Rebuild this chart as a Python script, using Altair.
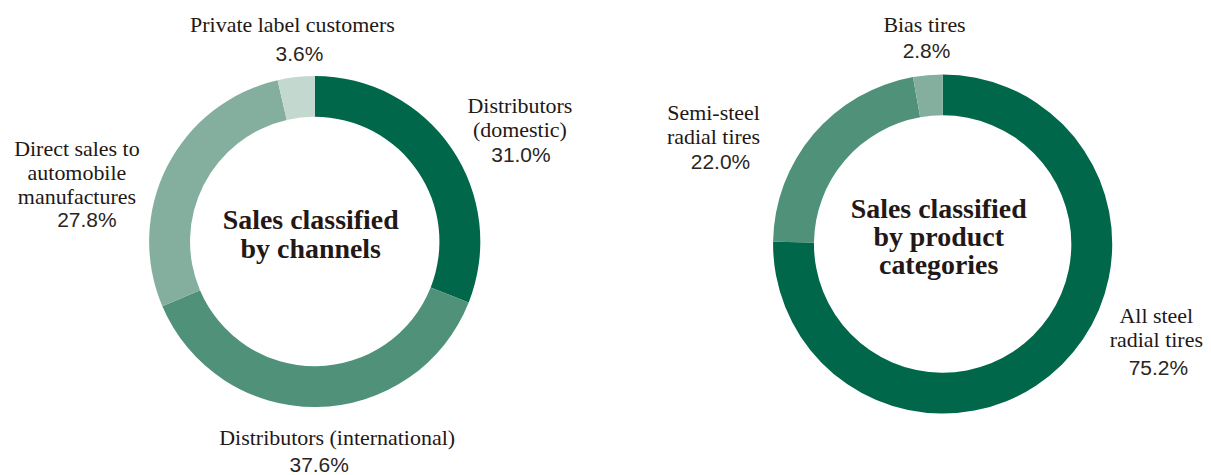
import altair as alt
import numpy as np
import pandas as pd

# ---------------- data ----------------
channel_labels = [
    "Distributors\n(domestic)",
    "Distributors (international)",
    "Direct sales to\nautomobile\nmanufactures",
    "Private label customers",
]
channel_shares = [31.0, 37.6, 27.8, 3.6]

product_labels = [
    "All steel\nradial tires",
    "Semi-steel\nradial tires",
    "Bias tires",
]
product_shares = [75.2, 22.0, 2.8]

titles = ["Sales classified\nby channels", "Sales classified\nby product\ncategories"]

# ---------------- style / layout ----------------
GREENS = ["#00674a", "#4f9179", "#84af9f", "#c3d9d0"]
SERIF = "Liberation Serif"
SANS = "Liberation Sans"
INK = "#231815"
W, H, M = 1195, 459, 8
LINE_H = 24
TITLE_LH = 28.5

PANELS = [
    dict(labels=channel_labels, shares=channel_shares, title=titles[0],
         cx=315.5, cy=241.5, outer=166, inner=125,
         nudge=[3.2, -5.8, -11.0, 0.6], rad=[240, 198, 248, 218],
         pct_dx=[1, -18, 10, 7], pct_gap=[26, 28, 24, 30]),
    dict(labels=product_labels, shares=product_shares, title=titles[1],
         cx=945, cy=244, outer=170, inner=129,
         nudge=[-24.0, -12.8, 0.3], rad=[230, 259, 220],
         pct_dx=[2, 7, 2], pct_gap=[30, 26, 27]),
]

layers = []
name_rows, pct_rows, title_rows = [], [], []

for p_i, p in enumerate(PANELS):
    shares = np.array(p["shares"], dtype=float)
    cats = [l.replace("\n", " ") for l in p["labels"]]
    df = pd.DataFrame({"cat": cats, "share": shares, "idx": range(len(cats))})
    arc = alt.Chart(df).mark_arc(
        innerRadius=p["inner"], outerRadius=p["outer"]
    ).encode(
        x=alt.value(p["cx"] - M),
        y=alt.value(p["cy"] - M),
        theta=alt.Theta("share:Q", stack=True),
        order=alt.Order("idx:Q", sort="ascending"),
        color=alt.Color("cat:N", scale=alt.Scale(domain=cats, range=GREENS[:len(cats)]), legend=None),
    )
    layers.append(arc)

    total = shares.sum()
    before = np.concatenate([[0], np.cumsum(shares)[:-1]])
    mids = (before + shares / 2) / total * 360.0
    for i, lab in enumerate(p["labels"]):
        ang = np.deg2rad(mids[i] + p["nudge"][i])
        ax = p["cx"] + p["rad"][i] * np.sin(ang)
        ay = p["cy"] - p["rad"][i] * np.cos(ang)
        lines = lab.split("\n")
        n = len(lines)
        for j, line in enumerate(lines):
            name_rows.append(dict(t=line, px=ax - M, py=ay + (j - (n - 1) / 2) * LINE_H - M))
        pct_rows.append(dict(t=f"{shares[i]:.1f}%", px=ax + p["pct_dx"][i] - M,
                             py=ay + (n - 1) / 2 * LINE_H + p["pct_gap"][i] - M))
    tl = p["title"].split("\n")
    for j, line in enumerate(tl):
        title_rows.append(dict(t=line, px=p["cx"] - 4 - M,
                               py=p["cy"] - 6 + (j - (len(tl) - 1) / 2) * TITLE_LH - M))

def text_layer(rows, color=INK, **kw):
    return alt.Chart(pd.DataFrame(rows)).mark_text(
        align="center", baseline="middle", color=color, **kw
    ).encode(
        x=alt.X("px:Q", scale=None, axis=None),
        y=alt.Y("py:Q", scale=None, axis=None),
        text="t:N",
    )

layers.append(text_layer(name_rows, font=SERIF, fontSize=22))
layers.append(text_layer(pct_rows, font=SANS, fontSize=21, color="#2b2522"))
layers.append(text_layer(title_rows, font=SERIF, fontSize=28, fontWeight="bold"))

chart = alt.layer(*layers).resolve_scale(
    theta="independent", color="independent"
).properties(
    width=W, height=H, padding=0, background="white"
).configure_view(stroke=None)

chart.save("out.html", embed_options={"renderer": "svg", "actions": False})
